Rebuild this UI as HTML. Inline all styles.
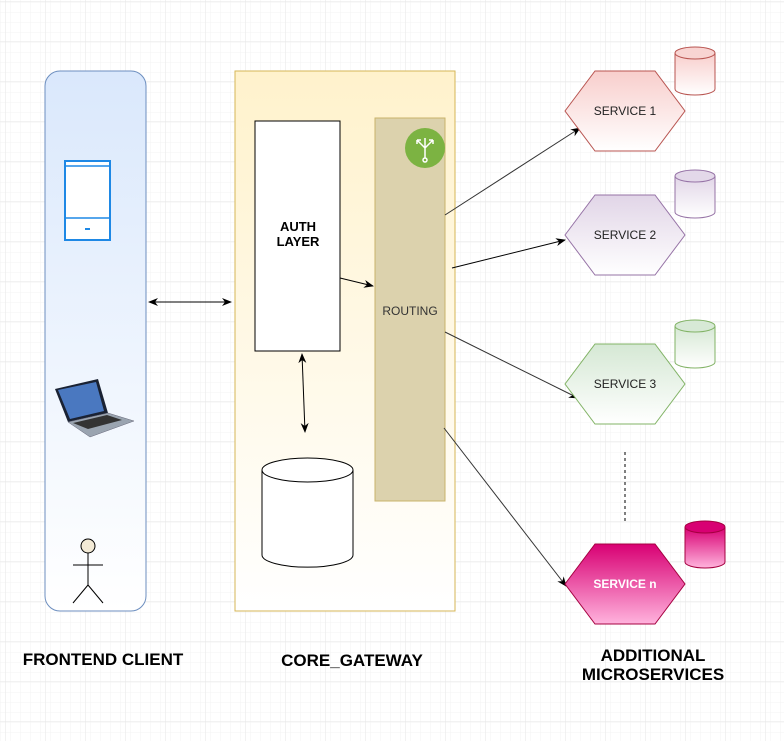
<!DOCTYPE html>
<html><head><style>body{margin:0;background:#fff}svg{display:block}text{font-family:"Liberation Sans",Arial,sans-serif}</style></head><body>
<svg width="784" height="741" viewBox="0 0 784 741" xmlns="http://www.w3.org/2000/svg">
<defs>
<pattern id="g" width="10" height="10" patternUnits="userSpaceOnUse" x="5" y="1"><path d="M10 0H0V10" fill="none" stroke="#f3f3f3" stroke-width="1"/></pattern>
<pattern id="G" width="40" height="40" patternUnits="userSpaceOnUse" x="5" y="1"><rect width="40" height="40" fill="url(#g)"/><path d="M40 0H0V40" fill="none" stroke="#e6e6e6" stroke-width="1"/></pattern>
<linearGradient id="bl" x1="0" y1="0" x2="0" y2="1"><stop offset="0" stop-color="#dae8fc"/><stop offset="1" stop-color="#fff"/></linearGradient>
<linearGradient id="yl" x1="0" y1="0" x2="0" y2="1"><stop offset="0" stop-color="#fff2cc"/><stop offset="1" stop-color="#fff"/></linearGradient>
<linearGradient id="rd" x1="0" y1="0" x2="0" y2="1"><stop offset="0" stop-color="#f8cecc"/><stop offset="1" stop-color="#fff"/></linearGradient>
<linearGradient id="pu" x1="0" y1="0" x2="0" y2="1"><stop offset="0" stop-color="#e1d5e7"/><stop offset="1" stop-color="#fff"/></linearGradient>
<linearGradient id="gr" x1="0" y1="0" x2="0" y2="1"><stop offset="0" stop-color="#d5e8d4"/><stop offset="1" stop-color="#fff"/></linearGradient>
<linearGradient id="mg" x1="0" y1="0" x2="0" y2="1"><stop offset="0" stop-color="#d80073"/><stop offset="1" stop-color="#ffb3dd"/></linearGradient>
<marker id="a" viewBox="0 0 10 10" refX="9" refY="5" markerWidth="10" markerHeight="10" orient="auto-start-reverse"><path d="M0 1L10 5L0 9L3 5Z" fill="#000"/></marker>
</defs>
<rect width="784" height="741" fill="url(#G)"/>
<rect x="45" y="71" width="101" height="540" rx="15" fill="url(#bl)" stroke="#6c8ebf"/>
<rect x="235" y="71" width="220" height="540" fill="url(#yl)" stroke="#d6b656"/>
<rect x="255" y="121" width="85" height="230" fill="#fff" stroke="#000"/>
<text x="298" y="231" text-anchor="middle" font-size="13" font-weight="bold">AUTH</text>
<text x="298" y="246" text-anchor="middle" font-size="13" font-weight="bold">LAYER</text>
<rect x="375" y="118" width="70" height="383" fill="#dcd2ad" stroke="#c9b36a"/>
<text x="410" y="315" text-anchor="middle" font-size="12" fill="#333">ROUTING</text>
<circle cx="425" cy="148" r="20" fill="#7cb342"/>
<g stroke="#fff" stroke-width="1.5" fill="none"><path d="M425 138V158M425 148L417 140M425 148L433 140M417 140v4M417 140h4M433 140v4M433 140h-4"/><circle cx="425" cy="160" r="2"/></g>
<path d="M262 470v85a45 12 0 0 0 91 0v-85" fill="#fff" stroke="#000"/><ellipse cx="307.5" cy="470" rx="45.5" ry="12" fill="#fff" stroke="#000"/>
<rect x="65" y="161" width="45" height="79" fill="#fff" stroke="#1e88e5" stroke-width="2"/><path d="M65 166h45M65 218h45" stroke="#1e88e5" stroke-width="1.5"/><rect x="85" y="228" width="5" height="2" fill="#1e88e5"/>
<path d="M55 389L98 379L108 413L68 422Z" fill="#1a2233"/><path d="M58 390L96 382L104 411L70 419Z" fill="#4a78c0"/><path d="M68 422L108 413L134 421L90 437Z" fill="#9aa4b0" stroke="#667" stroke-width=".5"/><path d="M73 423L107 415L122 420L88 429Z" fill="#333"/>
<circle cx="88" cy="546" r="7" fill="#f3ead6" stroke="#000"/><path d="M88 553V585M73 565H103M88 585L73 603M88 585L103 603" stroke="#000" fill="none"/>
<g stroke="#000" stroke-width="1" fill="none">
<line x1="149" y1="302" x2="231" y2="302" marker-start="url(#a)" marker-end="url(#a)"/>
<line x1="340" y1="278" x2="373" y2="286" marker-end="url(#a)"/>
<line x1="302" y1="354" x2="305" y2="432" marker-start="url(#a)" marker-end="url(#a)"/>
<line x1="445" y1="215" x2="580" y2="128" stroke="#333" marker-end="url(#a)"/>
<line x1="452" y1="268" x2="565" y2="240" marker-end="url(#a)"/>
<line x1="445" y1="332" x2="578" y2="398" stroke="#333" marker-end="url(#a)"/>
<line x1="444" y1="428" x2="566" y2="586" stroke="#333" marker-end="url(#a)"/>
<line x1="625" y1="452" x2="625" y2="522" stroke-dasharray="3 3"/>
</g>
<path d="M565 111L595 71H655L685 111L655 151H595Z" fill="url(#rd)" stroke="#b85450"/>
<text x="625" y="115" text-anchor="middle" font-size="12" fill="#222">SERVICE 1</text>
<path d="M565 235L595 195H655L685 235L655 275H595Z" fill="url(#pu)" stroke="#9673a6"/>
<text x="625" y="239" text-anchor="middle" font-size="12" fill="#222">SERVICE 2</text>
<path d="M565 384L595 344H655L685 384L655 424H595Z" fill="url(#gr)" stroke="#82b366"/>
<text x="625" y="388" text-anchor="middle" font-size="12" fill="#222">SERVICE 3</text>
<path d="M565 584L595 544H655L685 584L655 624H595Z" fill="url(#mg)" stroke="#a50040"/>
<text x="625" y="588" text-anchor="middle" font-size="12" fill="#fff" font-weight="bold">SERVICE n</text>
<g><path d="M675 53v36a20 6 0 0 0 40 0v-36" fill="url(#rd)" stroke="#b85450"/><ellipse cx="695" cy="53" rx="20" ry="6" fill="#f8d4d2" stroke="#b85450"/></g>
<g><path d="M675 176v36a20 6 0 0 0 40 0v-36" fill="url(#pu)" stroke="#9673a6"/><ellipse cx="695" cy="176" rx="20" ry="6" fill="#e3d8e9" stroke="#9673a6"/></g>
<g><path d="M675 326v36a20 6 0 0 0 40 0v-36" fill="url(#gr)" stroke="#82b366"/><ellipse cx="695" cy="326" rx="20" ry="6" fill="#d7e9d6" stroke="#82b366"/></g>
<g><path d="M685 527v35a20 6 0 0 0 40 0v-35" fill="url(#mg)" stroke="#a50040"/><ellipse cx="705" cy="527" rx="20" ry="6" fill="#d80073" stroke="#a50040"/></g>
<text x="103" y="665" text-anchor="middle" font-size="17" font-weight="bold">FRONTEND CLIENT</text>
<text x="352" y="666" text-anchor="middle" font-size="17" font-weight="bold">CORE_GATEWAY</text>
<text x="653" y="661" text-anchor="middle" font-size="17" font-weight="bold">ADDITIONAL</text>
<text x="653" y="680" text-anchor="middle" font-size="17" font-weight="bold">MICROSERVICES</text>
</svg>
</body></html>
